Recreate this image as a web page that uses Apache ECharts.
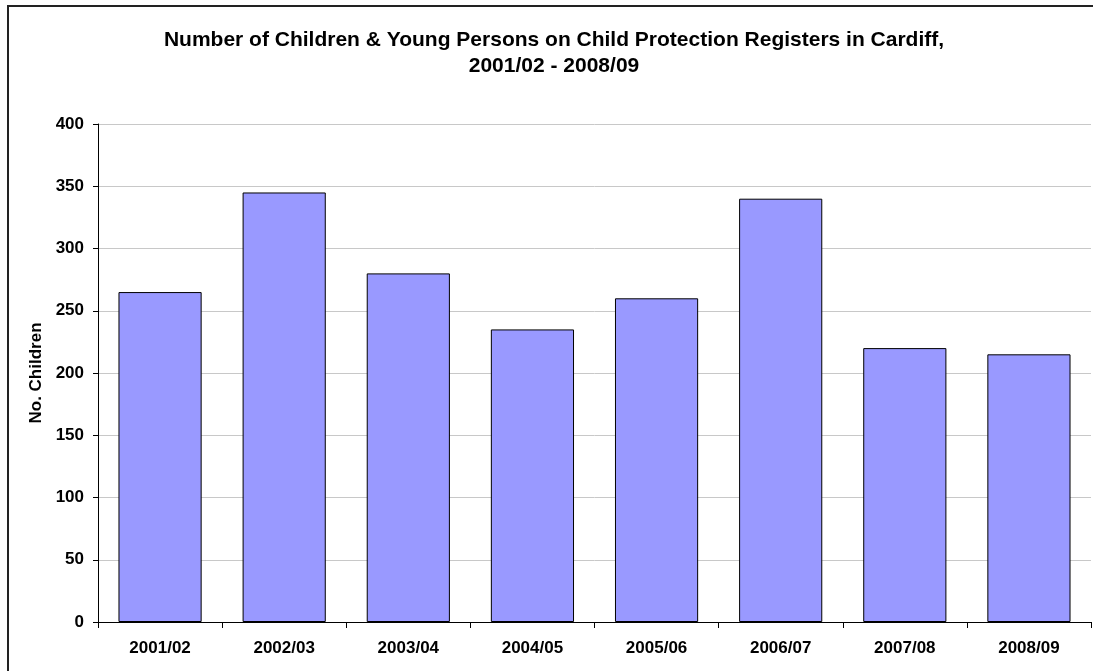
<!DOCTYPE html>
<html>
<head>
<meta charset="utf-8">
<script src="https://cdn.jsdelivr.net/npm/echarts@6/dist/echarts.min.js"></script>
<style>
html,body{margin:0;padding:0;background:#fff;}
#chart{width:1093px;height:671px;}
</style>
</head>
<body>
<div id="chart"></div>
<script>
var titleLines = ['Number of Children & Young Persons on Child Protection Registers in Cardiff,', '2001/02 - 2008/09'];
var yAxisName = 'No. Children';
var categories = ['2001/02', '2002/03', '2003/04', '2004/05', '2005/06', '2006/07', '2007/08', '2008/09'];
var values = [265, 345, 280, 235, 260, 340, 220, 215];

var chart = echarts.init(document.getElementById('chart'));
var font = '"Liberation Sans", Arial, sans-serif';
chart.setOption({
  animation: false,
  backgroundColor: '#fff',
  graphic: [
    {type: 'rect', shape: {x: 8, y: 6, width: 1200, height: 800}, style: {fill: null, stroke: '#222', lineWidth: 2}, z: 100},
    {type: 'text', x: 554, y: 40, style: {text: titleLines[0], font: 'bold 21px ' + font, fill: '#000', textAlign: 'center', textVerticalAlign: 'middle'}},
    {type: 'text', x: 554, y: 66, style: {text: titleLines[1], font: 'bold 21px ' + font, fill: '#000', textAlign: 'center', textVerticalAlign: 'middle'}}
  ],
  grid: {left: 98, right: 2, top: 124, bottom: 49, containLabel: false},
  xAxis: {
    type: 'category',
    data: categories,
    axisLine: {lineStyle: {color: '#000', width: 1}},
    axisTick: {show: true, length: 6, lineStyle: {color: '#000'}},
    axisLabel: {color: '#000', fontFamily: font, fontWeight: 'bold', fontSize: 17, margin: 18}
  },
  yAxis: {
    type: 'value',
    min: 0, max: 400, interval: 50,
    name: yAxisName,
    nameLocation: 'middle',
    nameRotate: 90,
    nameGap: 52,
    nameTextStyle: {color: '#000', fontFamily: font, fontWeight: 'bold', fontSize: 17},
    axisLine: {show: true, lineStyle: {color: '#000', width: 1}},
    axisTick: {show: true, length: 5, lineStyle: {color: '#000'}},
    axisLabel: {color: '#000', fontFamily: font, fontWeight: 'bold', fontSize: 17, margin: 14},
    splitLine: {show: true, lineStyle: {color: '#c8c8c8', width: 1}}
  },
  series: [{
    type: 'bar',
    data: values,
    barWidth: '67%',
    itemStyle: {color: '#9999FF', borderColor: '#000', borderWidth: 1}
  }]
});
</script>
</body>
</html>
